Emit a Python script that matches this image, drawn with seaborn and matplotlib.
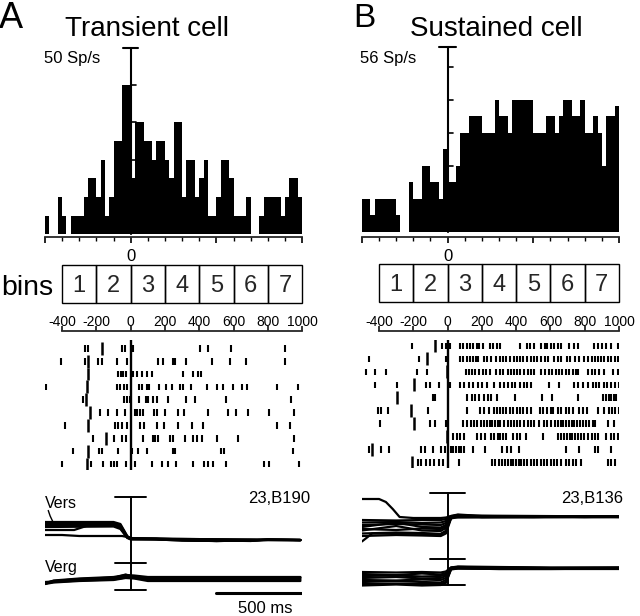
import numpy as np
import pandas as pd
import matplotlib
matplotlib.use("Agg")
import matplotlib.pyplot as plt
import seaborn as sns
from matplotlib.ticker import MultipleLocator

# ---- data -------------------------------------------------------------
bin_edges = list(range(-500, 1001, 25))  # 25 ms bins, -500..1000 ms

rate_a = [5, 0, 0, 10, 5, 0, 5, 5, 5, 10, 15, 15, 10, 20, 5, 10, 25, 25, 40, 40,
          15, 30, 30, 25, 25, 20, 25, 25, 20, 15, 30, 30, 10, 20, 20, 10, 15, 20, 5, 5,
          10, 20, 20, 15, 5, 5, 5, 10, 0, 0, 5, 10, 10, 10, 10, 5, 10, 15, 15, 10]
rate_b = [10, 10, 5, 10, 10, 10, 10, 10, 5, 0, 0, 15, 10, 10, 20, 20, 15, 15, 10, 25,
          15, 15, 20, 30, 30, 35, 35, 35, 30, 30, 30, 40, 35, 35, 30, 40, 40, 40, 40, 40,
          30, 30, 30, 35, 35, 30, 35, 40, 40, 35, 35, 40, 30, 30, 35, 30, 20, 35, 35, 38]

bin_labels = ["1", "2", "3", "4", "5", "6", "7"]
bin_starts = [-400, -200, 0, 200, 400, 600, 800]
bin_ticks = [-400, -200, 0, 200, 400, 600, 800, 1000]

# spike times (ms) per trial, top trial first
spikes_a = [
    [-267, -251, -49, -33, 12, 405, 453, 586, 901],
    [-409, -267, -189, -169, -82, -19, 162, 191, 249, 261, 321, 477, 580, 671, 901],
    [-72, -58, -43, -27, 12, 39, 64, 93, 123, 304, 362, 395, 409],
    [-496, -78, -62, -39, -23, 51, 64, 93, 109, 167, 204, 239, 288, 304, 350, 444, 506,
     541, 594, 652, 681, 852, 975],
    [-280, -39, -23, -4, 51, 90, 103, 128, 152, 216, 321, 376, 555, 934],
    [-179, -130, -78, -33, 25, 39, 54, 70, 136, 156, 200, 278, 313, 450, 566, 613, 687,
     804, 950],
    [-383, -91, -72, -53, -19, 54, 80, 152, 195, 278, 356, 424, 852, 930],
    [-218, -97, -53, -27, 70, 128, 142, 162, 230, 249, 317, 366, 385, 415, 502, 625, 954],
    [-335, -183, -169, -76, 6, 45, 93, 249, 261, 527, 547, 944],
    [-399, -234, -163, -117, -97, -82, -27, 25, 123, 181, 220, 263, 362, 428, 453, 483,
     555, 775, 804, 979],
]
marks_a = [-165, -251, -251, -257, -261, -237, -247, -146, -247, -257]

spikes_b = [
    [-206, -35, -10, 14, 73, 92, 112, 131, 151, 171, 186, 206, 245, 265, 288, 304, 425,
     461, 480, 504, 547, 566, 582, 602, 621, 645, 664, 710, 735, 759, 853, 876, 900, 925,
     951, 994],
    [-461, -167, -10, 73, 92, 112, 131, 147, 163, 180, 210, 229, 253, 284, 304, 323, 343,
     363, 386, 402, 421, 441, 461, 484, 504, 523, 547, 566, 586, 621, 645, 664, 696, 715,
     743, 768, 798, 817, 841, 860, 876, 896, 915, 935, 955, 974, 994],
    [-476, -421, -359, -178, -120, 106, 122, 141, 161, 186, 206, 225, 245, 284, 304, 323,
     351, 370, 386, 406, 425, 445, 468, 488, 504, 547, 566, 592, 612, 631, 651, 670, 690,
     710, 729, 749, 762, 817, 841, 860, 886, 915, 964, 994],
    [-421, -296, -127, -104, -49, 14, 73, 96, 122, 147, 180, 200, 229, 272, 304, 327, 351,
     376, 396, 421, 445, 465, 484, 592, 651, 735, 759, 788, 821, 847, 866, 886, 911, 931,
     955, 978, 998],
    [-88, -73, 112, 141, 161, 186, 214, 233, 253, 288, 396, 553, 612, 762, 906, 925, 939,
     955, 970, 984],
    [-408, -388, -349, -114, 112, 190, 210, 239, 269, 288, 308, 323, 343, 363, 382, 402,
     421, 441, 461, 488, 539, 559, 578, 602, 617, 645, 664, 690, 710, 729, 768, 788, 813,
     880, 915, 939, 959, 978, 998],
    [-392, -104, -74, -10, 92, 116, 135, 155, 174, 194, 214, 229, 245, 261, 276, 292, 308,
     331, 351, 370, 390, 406, 425, 445, 468, 488, 504, 533, 563, 582, 602, 625, 645, 661,
     676, 692, 708, 723, 739, 755, 770, 788, 808, 827, 847, 860, 935, 970],
    [29, 53, 73, 96, 171, 194, 220, 253, 272, 292, 308, 323, 343, 382, 402, 421, 455, 559,
     645, 664, 680, 696, 712, 727, 743, 762, 778, 798, 817, 841, 860, 880, 925, 951, 970,
     994],
    [-461, -388, -339, -153, -133, -88, -41, -16, 18, 33, 49, 65, 80, 96, 151, 220, 318,
     347, 370, 416, 690, 768, 860, 880, 951],
    [-172, -153, -127, -104, -80, -49, -25, 69, 259, 278, 298, 318, 337, 351, 367, 382,
     398, 414, 429, 445, 461, 484, 504, 523, 543, 563, 582, 602, 621, 641, 664, 690, 710,
     729, 749, 778, 935, 955, 974],
]
marks_b = [-74, -120, -6, -196, -296, -212, -196, -6, -441, -206]

# eye traces (deg, arbitrary offset)
vers_t_a = [-500, -100, -60, -20, 0, 150, 300, 500, 700, 800, 990]
vers_a = [
    [15.6, 15.6, 15.2, 12.8, 12.3, 12.3, 12.1, 11.9, 11.9, 12.1, 12.0],
    [15.4, 15.4, 15.0, 12.7, 12.4, 12.2, 12.0, 11.9, 12.0, 12.0, 12.0],
    [15.2, 15.2, 14.8, 12.6, 12.3, 12.2, 12.0, 11.8, 11.9, 12.1, 12.0],
    [15.0, 15.1, 14.6, 12.5, 12.2, 12.1, 11.9, 11.8, 11.9, 12.0, 11.9],
    [14.8, 14.9, 14.4, 12.5, 12.2, 12.2, 12.0, 11.9, 11.8, 12.1, 12.0],
    [14.6, 14.7, 14.2, 12.4, 12.1, 12.1, 11.9, 11.8, 11.9, 12.0, 12.0],
]
thin_t_a = [-500, -330, -250, -100, -60, -20, 0, 990]
thin_a = [14.0, 14.0, 14.9, 15.0, 14.5, 12.6, 12.3, 12.0]
flat_t_a = [-500, -400, -300, -50, -20, 0, 990]
flat_a = [13.0, 13.0, 12.8, 12.8, 12.6, 12.3, 12.0]

verg_t_a = [-500, -450, -300, -100, -30, 20, 100, 300, 600, 990]
verg_a = [
    [3.2, 3.9, 4.3, 4.6, 5.0, 4.9, 4.6, 4.6, 4.6, 4.6],
    [3.4, 3.8, 4.2, 4.5, 4.8, 4.7, 4.4, 4.4, 4.4, 4.4],
    [3.6, 3.7, 4.0, 4.3, 4.7, 4.6, 4.2, 4.2, 4.2, 4.2],
    [3.3, 3.6, 3.9, 4.1, 4.5, 4.4, 4.0, 4.0, 4.0, 4.0],
    [3.2, 3.5, 3.8, 4.0, 4.4, 4.3, 3.8, 3.8, 3.8, 3.8],
    [3.5, 3.7, 4.1, 4.4, 5.1, 4.6, 4.5, 4.3, 4.3, 4.5],
]

vers_t_b = [-500, -300, -150, -40, -10, 20, 60, 200, 500, 800, 1000]
vers_b = [
    [16.0, 15.9, 16.0, 16.0, 16.2, 16.8, 17.1, 16.8, 16.7, 16.7, 16.7],
    [15.5, 15.6, 15.4, 15.5, 15.8, 16.7, 17.0, 16.7, 16.7, 16.7, 16.7],
    [15.0, 15.2, 15.1, 15.0, 15.4, 16.6, 16.9, 16.7, 16.6, 16.7, 16.7],
    [14.6, 15.5, 14.6, 14.5, 15.0, 16.5, 16.8, 16.7, 16.7, 16.6, 16.6],
    [14.2, 14.0, 14.3, 14.2, 14.7, 16.5, 16.8, 16.6, 16.6, 16.6, 16.6],
    [13.9, 14.8, 13.9, 13.8, 14.4, 16.4, 16.7, 16.6, 16.6, 16.6, 16.7],
    [13.3, 13.5, 13.4, 13.2, 13.8, 16.4, 16.8, 16.6, 16.7, 16.6, 16.6],
    [12.8, 13.0, 12.9, 12.8, 13.3, 16.3, 16.6, 16.6, 16.6, 16.7, 16.6],
]
top_t_b = [-500, -400, -360, -320, -280, -200, -40, -10, 20, 60, 1000]
top_b = [20.2, 20.2, 19.6, 18.2, 16.6, 16.4, 16.4, 16.5, 16.8, 16.9, 16.7]
tail_t_b = [-500, -440, -40, -10, 20, 1000]
tail_b = [11.7, 13.3, 13.2, 13.8, 16.5, 16.6]

verg_t_b = [-500, -300, -150, -40, -10, 20, 60, 300, 600, 1000]
verg_b = [
    [5.6, 5.5, 5.6, 5.5, 5.7, 6.5, 6.7, 6.6, 6.5, 6.5],
    [5.2, 5.0, 5.3, 5.1, 5.4, 6.5, 6.6, 6.5, 6.4, 6.5],
    [4.8, 4.9, 4.7, 4.8, 5.1, 6.4, 6.6, 6.5, 6.4, 6.4],
    [4.4, 4.6, 4.3, 4.4, 4.8, 6.3, 6.5, 6.4, 6.3, 6.4],
    [4.0, 3.9, 4.1, 4.0, 4.4, 6.3, 6.5, 6.4, 6.3, 6.3],
    [3.6, 3.8, 3.6, 3.5, 4.0, 6.2, 6.4, 6.3, 6.3, 6.3],
    [3.2, 3.3, 3.2, 3.2, 3.6, 6.2, 6.3, 6.2, 6.2, 6.3],
    [2.9, 3.1, 2.9, 3.0, 3.4, 6.1, 6.3, 6.2, 6.2, 6.2],
]

# ---- figure -----------------------------------------------------------
sns.set_theme(style="ticks")
plt.rcParams["font.family"] = ["Liberation Sans", "DejaVu Sans"]

W, H = 640, 616
fig = plt.figure(figsize=(W / 100, H / 100), dpi=100)


def add_ax(x0, x1, y0, y1):
    ax = fig.add_axes([x0 / W, 1 - y1 / H, (x1 - x0) / W, (y1 - y0) / H])
    ax.patch.set_alpha(0)
    return ax


def ftext(x, y, s, **kw):
    fig.text(x / W, 1 - y / H, s, color="black", **kw)


def histogram(x0, x1, y0, y1, rates, ymin, ymax, cap):
    ax = add_ax(x0, x1, y0, y1)
    df = pd.DataFrame({"t": [e + 12.5 for e in bin_edges[:-1]], "rate": rates})
    sns.histplot(data=df, x="t", weights="rate", bins=bin_edges, color="black",
                 alpha=1, linewidth=0, ax=ax)
    ax.set_xlim(-500, 1000)
    ax.set_ylim(ymin, ymax)
    ax.set_xlabel("")
    ax.set_ylabel("")
    for s in ["top", "right", "left"]:
        ax.spines[s].set_visible(False)
    ax.spines["bottom"].set_linewidth(1.3)
    ax.set_yticks([])
    ax.set_xticks([-500, 0, 500, 1000])
    ax.set_xticklabels(["", "0", "", ""])
    ax.xaxis.set_minor_locator(MultipleLocator(100))
    ax.tick_params(axis="x", which="major", length=4.5, width=1.2, pad=4.5,
                   labelsize=12, colors="black")
    ax.tick_params(axis="x", which="minor", length=3, width=1.0, colors="black")
    # vertical scale bar
    ax.plot([0, 0], [0, ymax], color="black", lw=1.5, clip_on=False)
    ax.plot([-cap, cap], [ymax, ymax], color="black", lw=1.5, clip_on=False)
    for v in range(10, int(ymax), 10):
        ax.plot([0, 30], [v, v], color="black", lw=1.2, clip_on=False)
    return ax


def bins_box(x0, x1, y0, y1, ty):
    ax = add_ax(x0, x1, y0, y1)
    ax.bar(bin_starts, 1, width=200, align="edge", fill=False, edgecolor="black",
           linewidth=1.0, clip_on=False)
    for s, lab in zip(bin_starts, bin_labels):
        ax.text(s + 100, 0.45, lab, ha="center", va="center", fontsize=17)
    ax.set_xlim(-400, 1000)
    ax.set_ylim(0, 1)
    ax.axis("off")
    tx = add_ax(x0, x1, ty, ty + 4)
    tx.set_xlim(-400, 1000)
    tx.set_yticks([])
    for s in ["bottom", "left", "right"]:
        tx.spines[s].set_visible(False)
    tx.spines["top"].set_linewidth(1.3)
    tx.xaxis.tick_top()
    tx.set_xticks(bin_ticks)
    tx.set_xticklabels([str(v) for v in bin_ticks])
    tx.tick_params(axis="x", top=True, bottom=False, labeltop=True, labelbottom=False,
                   direction="out", length=3.4, width=1.1, pad=-2.0, labelsize=10,
                   colors="black")


def raster(x0, x1, y0, y1, spikes, marks, ylim):
    ax = add_ax(x0, x1, y0, y1)
    ax.eventplot(spikes, lineoffsets=list(range(len(spikes))), linelengths=0.52,
                 linewidths=1.5, colors="black")
    ax.eventplot([[m] for m in marks], lineoffsets=list(range(len(marks))),
                 linelengths=1.0, linewidths=1.8, colors="black")
    ax.axvline(0, color="black", lw=1.7)
    ax.set_xlim(-500, 1000)
    ax.set_ylim(*ylim)
    ax.axis("off")


def traces(x0, x1, vers_sets, verg_sets, caps, cap_w, lw):
    ax = add_ax(x0, x1, 480, 616)
    for t, ys in vers_sets:
        for y in ys:
            ax.plot(t, y, color="black", lw=lw, solid_joinstyle="round")
    for t, ys in verg_sets:
        for y in ys:
            ax.plot(t, y, color="black", lw=lw, solid_joinstyle="round")
    ax.plot([0, 0], [caps[-1], caps[0]], color="black", lw=1.4)
    for c in caps:
        ax.plot([-cap_w, cap_w], [c, c], color="black", lw=1.4)
    ax.set_xlim(-500, 1000)
    ax.set_ylim(-3.2, 24)
    ax.axis("off")
    return ax


# panel A
histogram(45, 302.1, 47.7, 236.7, rate_a, -0.65, 50, 43)
bins_box(62.1, 302.1, 265, 302.7, 330.7)
raster(45, 302.1, 340, 470, spikes_a, marks_a, (9.47, -0.65))
ax_ta = traces(45, 302.1,
               [(vers_t_a, vers_a), (thin_t_a, [thin_a]), (flat_t_a, [flat_a])],
               [(verg_t_a, verg_a)], [20.6, 7.4, 2.0], 92, 1.6)
ax_ta.plot([-481, -470, -452], [17.9, 16.8, 15.5], color="black", lw=1.0)
ax_ta.plot([500, 1000], [1.4, 1.4], color="black", lw=2.2)

# panel B
histogram(361.9, 619, 46.7, 236.7, rate_b, -1.51, 56, 48)
bins_box(379, 619, 264, 301.7, 330.7)
raster(361.9, 619, 340, 468.3, spikes_b, marks_b, (9.43, -0.46))
traces(361.9, 619,
       [(vers_t_b, vers_b), (top_t_b, [top_b]), (tail_t_b, [tail_b])],
       [(verg_t_b, verg_b)], [21.5, 8.2, 3.0], 103, 1.6)

# text
ftext(-1, 28.3, "A", fontsize=26, va="baseline")
ftext(146.7, 36, "Transient cell", fontsize=20, ha="center", va="baseline")
ftext(353, 27, "B", fontsize=24, va="baseline")
ftext(496.7, 36.3, "Sustained cell", fontsize=20, ha="center", va="baseline")
ftext(44, 63, "50 Sp/s", fontsize=12, va="baseline")
ftext(360.5, 62.7, "56 Sp/s", fontsize=12, va="baseline")
ftext(1, 295, "bins", fontsize=20.5, va="baseline")
ftext(45, 508.3, "Vers", fontsize=11.5, va="baseline")
ftext(45, 571.7, "Verg", fontsize=11.5, va="baseline")
ftext(310, 503.3, "23,B190", fontsize=12, ha="right", va="baseline")
ftext(623, 503.3, "23,B136", fontsize=12, ha="right", va="baseline")
ftext(265, 613.3, "500 ms", fontsize=12, ha="center", va="baseline")

fig.savefig("out.png", dpi=100)
